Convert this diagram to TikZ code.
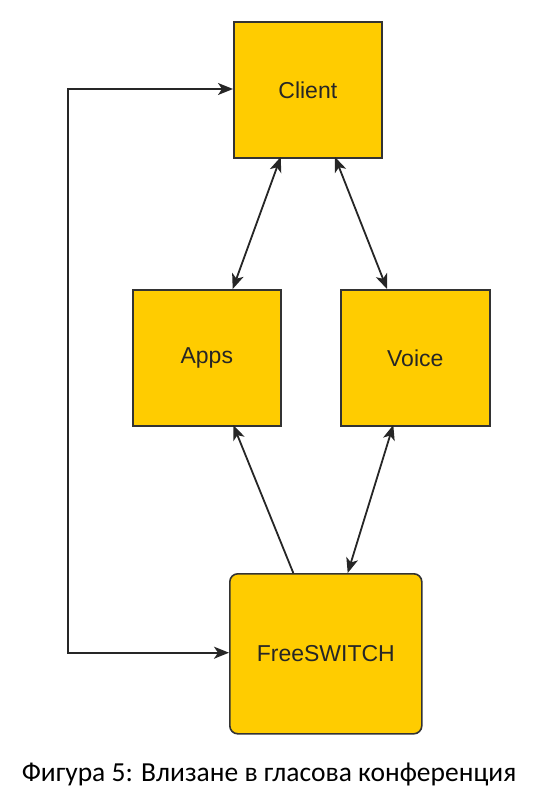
\documentclass[tikz,border=0pt]{standalone}
\usepackage{fontspec}
\setmainfont{Liberation Sans}
\newfontfamily\boxfont{Liberation Sans}
\newfontfamily\capfont{Carlito}
\usetikzlibrary{arrows.meta}
\definecolor{boxfill}{HTML}{FFCC00}
\definecolor{boxline}{HTML}{333333}
\begin{document}
\begin{tikzpicture}[x=1pt,y=-1pt,
  box/.style={draw=boxline,fill=boxfill,line width=1.6pt,inner sep=0pt,anchor=north west,
    font=\boxfont\fontsize{23}{27}\selectfont,text=black!85},
  conn/.style={line width=1.8pt,draw=black!85,arrows={Stealth[length=15pt,width=12pt,inset=4pt]-Stealth[length=15pt,width=12pt,inset=4pt]}},
  conn1/.style={line width=1.8pt,draw=black!85,arrows={-Stealth[length=15pt,width=12pt,inset=4pt]}}]
\useasboundingbox (0,0) rectangle (538,806);
\node[box,minimum width=148pt,minimum height=136pt] (client) at (233,21) {Client};
\node[box,minimum width=148pt,minimum height=136pt] (apps) at (132,289) {Apps};
\node[box,minimum width=149pt,minimum height=136pt] (voice) at (340,289) {Voice};
\node[box,rounded corners=8pt,minimum width=192pt,minimum height=160pt] (fs) at (229,573) {FreeSWITCH};
\node[font=\capfont\fontsize{27.5}{32}\selectfont,anchor=base] (cap) at (269,781) {Фигура 5: Влизане в гласова конференция};
\coordinate (c1) at (280.7,157);
\coordinate (a1) at (232.7,289);
\coordinate (c2) at (335,157);
\coordinate (v1) at (387,289);
\coordinate (a2) at (233.3,425);
\coordinate (f1) at (293.3,573);
\coordinate (v2) at (393.3,425);
\coordinate (f2) at (347.7,573);
\coordinate (cl) at (233,89);
\coordinate (fl) at (229,652.7);
\coordinate (k1) at (68.3,89);
\coordinate (k2) at (68.3,652.7);
\draw[conn] (c1) -- (a1);
\draw[conn] (c2) -- (v1);
\draw[conn1] (f1) -- (a2);
\draw[conn] (v2) -- (f2);
\draw[conn] (fl) -- (k2) -- (k1) -- (cl);
\end{tikzpicture}
\end{document}
